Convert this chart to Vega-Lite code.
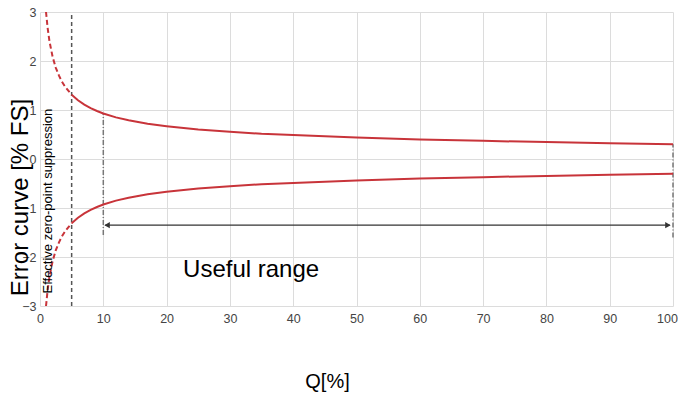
{
  "$schema": "https://vega.github.io/schema/vega-lite/v6.json",
  "width": 633,
  "height": 294,
  "autosize": {"type": "none"},
  "padding": {"left": 40, "top": 12, "right": 5, "bottom": 93},
  "background": "white",
  "config": {
    "view": {"stroke": null},
    "font": "Liberation Sans",
    "axis": {"gridColor": "#dcdcdc", "gridWidth": 1, "domain": false, "ticks": false, "labelColor": "#444", "labelFontSize": 12.5, "labelFont": "Liberation Sans", "labelFlush": false, "labelBound": false}
  },
  "datasets": {
    "curves": [
      {"Q": 0.95, "err": 3.0, "branch": "upper", "style": "dash"},
      {"Q": 1.2, "err": 2.68, "branch": "upper", "style": "dash"},
      {"Q": 1.5, "err": 2.4, "branch": "upper", "style": "dash"},
      {"Q": 2, "err": 2.08, "branch": "upper", "style": "dash"},
      {"Q": 2.5, "err": 1.86, "branch": "upper", "style": "dash"},
      {"Q": 3, "err": 1.7, "branch": "upper", "style": "dash"},
      {"Q": 3.5, "err": 1.57, "branch": "upper", "style": "dash"},
      {"Q": 4, "err": 1.47, "branch": "upper", "style": "dash"},
      {"Q": 4.5, "err": 1.39, "branch": "upper", "style": "dash"},
      {"Q": 5, "err": 1.31, "branch": "upper", "style": "dash"},
      {"Q": 5, "err": 1.31, "branch": "upper", "style": "solid"},
      {"Q": 6, "err": 1.2, "branch": "upper", "style": "solid"},
      {"Q": 7, "err": 1.11, "branch": "upper", "style": "solid"},
      {"Q": 8, "err": 1.04, "branch": "upper", "style": "solid"},
      {"Q": 9, "err": 0.98, "branch": "upper", "style": "solid"},
      {"Q": 10, "err": 0.93, "branch": "upper", "style": "solid"},
      {"Q": 12, "err": 0.85, "branch": "upper", "style": "solid"},
      {"Q": 14, "err": 0.79, "branch": "upper", "style": "solid"},
      {"Q": 17, "err": 0.72, "branch": "upper", "style": "solid"},
      {"Q": 20, "err": 0.67, "branch": "upper", "style": "solid"},
      {"Q": 25, "err": 0.6, "branch": "upper", "style": "solid"},
      {"Q": 30, "err": 0.555, "branch": "upper", "style": "solid"},
      {"Q": 35, "err": 0.515, "branch": "upper", "style": "solid"},
      {"Q": 40, "err": 0.49, "branch": "upper", "style": "solid"},
      {"Q": 50, "err": 0.44, "branch": "upper", "style": "solid"},
      {"Q": 60, "err": 0.4, "branch": "upper", "style": "solid"},
      {"Q": 70, "err": 0.37, "branch": "upper", "style": "solid"},
      {"Q": 80, "err": 0.345, "branch": "upper", "style": "solid"},
      {"Q": 90, "err": 0.32, "branch": "upper", "style": "solid"},
      {"Q": 100, "err": 0.3, "branch": "upper", "style": "solid"},
      {"Q": 0.95, "err": -3.0, "branch": "lower", "style": "dash"},
      {"Q": 1.2, "err": -2.68, "branch": "lower", "style": "dash"},
      {"Q": 1.5, "err": -2.4, "branch": "lower", "style": "dash"},
      {"Q": 2, "err": -2.08, "branch": "lower", "style": "dash"},
      {"Q": 2.5, "err": -1.86, "branch": "lower", "style": "dash"},
      {"Q": 3, "err": -1.7, "branch": "lower", "style": "dash"},
      {"Q": 3.5, "err": -1.57, "branch": "lower", "style": "dash"},
      {"Q": 4, "err": -1.47, "branch": "lower", "style": "dash"},
      {"Q": 4.5, "err": -1.39, "branch": "lower", "style": "dash"},
      {"Q": 5, "err": -1.31, "branch": "lower", "style": "dash"},
      {"Q": 5, "err": -1.31, "branch": "lower", "style": "solid"},
      {"Q": 6, "err": -1.2, "branch": "lower", "style": "solid"},
      {"Q": 7, "err": -1.11, "branch": "lower", "style": "solid"},
      {"Q": 8, "err": -1.04, "branch": "lower", "style": "solid"},
      {"Q": 9, "err": -0.98, "branch": "lower", "style": "solid"},
      {"Q": 10, "err": -0.93, "branch": "lower", "style": "solid"},
      {"Q": 12, "err": -0.85, "branch": "lower", "style": "solid"},
      {"Q": 14, "err": -0.79, "branch": "lower", "style": "solid"},
      {"Q": 17, "err": -0.72, "branch": "lower", "style": "solid"},
      {"Q": 20, "err": -0.67, "branch": "lower", "style": "solid"},
      {"Q": 25, "err": -0.6, "branch": "lower", "style": "solid"},
      {"Q": 30, "err": -0.555, "branch": "lower", "style": "solid"},
      {"Q": 35, "err": -0.515, "branch": "lower", "style": "solid"},
      {"Q": 40, "err": -0.49, "branch": "lower", "style": "solid"},
      {"Q": 50, "err": -0.44, "branch": "lower", "style": "solid"},
      {"Q": 60, "err": -0.4, "branch": "lower", "style": "solid"},
      {"Q": 70, "err": -0.37, "branch": "lower", "style": "solid"},
      {"Q": 80, "err": -0.345, "branch": "lower", "style": "solid"},
      {"Q": 90, "err": -0.32, "branch": "lower", "style": "solid"},
      {"Q": 100, "err": -0.3, "branch": "lower", "style": "solid"}
    ]
  },
  "layer": [
    {
      "data": {"values": [{"Q": 0, "err": 0}]},
      "mark": {"type": "point", "opacity": 0},
      "encoding": {
        "x": {"field": "Q", "type": "quantitative", "scale": {"domain": [0, 100], "nice": false},
          "axis": {"values": [0,10,20,30,40,50,60,70,80,90,100], "title": "Q[%]", "titleFontSize": 20, "titleFontWeight": "normal", "titleColor": "#000", "titleX": 287, "titleY": 75, "titleBaseline": "middle", "titleAlign": "center", "labelPadding": 6,
            "labelOffset": {"condition": {"test": "datum.value == 100", "value": -6}, "value": 0}}},
        "y": {"field": "err", "type": "quantitative", "scale": {"domain": [-3, 3], "nice": false},
          "axis": {"values": [-3,-2,-1,0,1,2,3], "title": "Error curve [% FS]", "titleFontSize": 24, "titleFontWeight": "normal", "titleColor": "#000", "titleAngle": 270, "titleX": -20, "titleY": 185, "titleBaseline": "middle", "titleAlign": "center", "labelPadding": 4}}
      }
    },
    {
      "data": {"values": [{"Q": 5, "y1": -3, "y2": 3}]},
      "mark": {"type": "rule", "color": "#555", "strokeWidth": 1.5, "strokeDash": [4, 3]},
      "encoding": {"x": {"field": "Q", "type": "quantitative"}, "y": {"field": "y1", "type": "quantitative"}, "y2": {"field": "y2"}}
    },
    {
      "data": {"values": [{"Q": 10, "y1": -1.55, "y2": 0.93}, {"Q": 100, "y1": -1.6, "y2": 0.3}]},
      "mark": {"type": "rule", "color": "#777", "strokeWidth": 1.5, "strokeDash": [5, 2, 1, 2]},
      "encoding": {"x": {"field": "Q", "type": "quantitative"}, "y": {"field": "y1", "type": "quantitative"}, "y2": {"field": "y2"}}
    },
    {
      "data": {"name": "curves"},
      "transform": [{"filter": "datum.style == 'dash'"}],
      "mark": {"type": "line", "color": "#c8343a", "strokeWidth": 2, "strokeDash": [5, 3], "clip": true},
      "encoding": {"x": {"field": "Q", "type": "quantitative"}, "y": {"field": "err", "type": "quantitative"}, "detail": {"field": "branch"}}
    },
    {
      "data": {"name": "curves"},
      "transform": [{"filter": "datum.style == 'solid'"}],
      "mark": {"type": "line", "color": "#c8343a", "strokeWidth": 2, "clip": true},
      "encoding": {"x": {"field": "Q", "type": "quantitative"}, "y": {"field": "err", "type": "quantitative"}, "detail": {"field": "branch"}}
    },
    {
      "data": {"values": [{"x1": 10.3, "x2": 99.5, "y": -1.35}]},
      "mark": {"type": "rule", "color": "#333", "strokeWidth": 1.2},
      "encoding": {"x": {"field": "x1", "type": "quantitative"}, "x2": {"field": "x2"}, "y": {"field": "y", "type": "quantitative"}}
    },
    {
      "data": {"values": [{"x": 10.6, "y": -1.35, "dir": "triangle-left"}, {"x": 99.2, "y": -1.35, "dir": "triangle-right"}]},
      "mark": {"type": "point", "filled": true, "color": "#333", "size": 40, "opacity": 1},
      "encoding": {"x": {"field": "x", "type": "quantitative"}, "y": {"field": "y", "type": "quantitative"}, "shape": {"field": "dir", "type": "nominal", "scale": {"domain": ["triangle-left", "triangle-right"], "range": ["triangle-left", "triangle-right"]}, "legend": null}}
    },
    {
      "data": {"values": [{"x": 22.6, "y": -2.27, "label": "Useful range"}]},
      "mark": {"type": "text", "align": "left", "baseline": "middle", "fontSize": 24, "font": "Liberation Sans", "color": "#000"},
      "encoding": {"x": {"field": "x", "type": "quantitative"}, "y": {"field": "y", "type": "quantitative"}, "text": {"field": "label"}}
    },
    {
      "data": {"values": [{"x": 1.26, "y": -0.86, "label": "Effective zero-point suppression"}]},
      "mark": {"type": "text", "align": "center", "baseline": "middle", "angle": 270, "fontSize": 13, "font": "Liberation Sans", "color": "#000"},
      "encoding": {"x": {"field": "x", "type": "quantitative"}, "y": {"field": "y", "type": "quantitative"}, "text": {"field": "label"}}
    }
  ]
}
